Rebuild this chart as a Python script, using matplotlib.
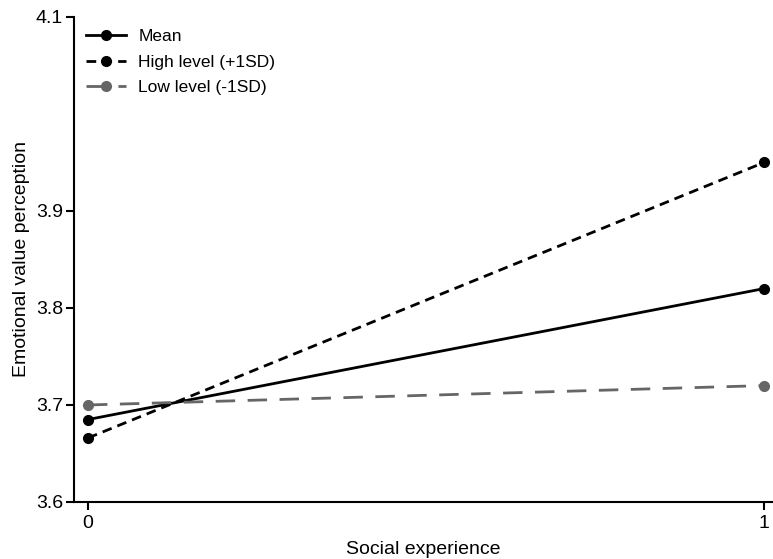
import matplotlib.pyplot as plt

plt.rcParams['font.family'] = ['Liberation Sans', 'DejaVu Sans']

# Simple slopes of emotional value perception on social experience
x_levels = [0, 1]
mean_vals = [3.685, 3.82]
high_vals = [3.666, 3.95]
low_vals = [3.70, 3.72]
y_ticks = [3.6, 3.7, 3.8, 3.9, 4.1]

fig = plt.figure(figsize=(7.73, 5.59), dpi=100)
ax = fig.add_axes([0.0957, 0.102, 0.9043, 0.8676])

ax.plot(x_levels, mean_vals, color='black', lw=2, marker='o', ms=7,
        label='Mean')
ax.plot(x_levels, high_vals, color='black', lw=2, marker='o', ms=7,
        dashes=(3.5, 2.2), label='High level (+1SD)')
ax.plot(x_levels, low_vals, color='#666666', lw=2, marker='o', ms=7,
        dashes=(7, 4.5), label='Low level (-1SD)')

ax.set_xlim(-0.0207, 1.0133)
ax.set_ylim(3.6, 4.1)
ax.set_xticks(x_levels)
ax.set_yticks(y_ticks)
ax.set_yticklabels([f'{v:.1f}' for v in y_ticks])
ax.tick_params(labelsize=14, width=1.5, length=6, colors='black')
ax.tick_params(axis='y', pad=2)

for side in ['top', 'right']:
    ax.spines[side].set_visible(False)
for side in ['left', 'bottom']:
    ax.spines[side].set_linewidth(1.5)

ax.set_xlabel('Social experience', fontsize=14, labelpad=6)
ax.set_ylabel('Emotional value perception', fontsize=14, labelpad=4)

ax.legend(loc='upper left', frameon=False, fontsize=12.5, handlelength=2.3,
          handletextpad=0.7, borderaxespad=0.2, labelspacing=0.6,
          borderpad=0.5)

fig.savefig('out.png', dpi=100)
